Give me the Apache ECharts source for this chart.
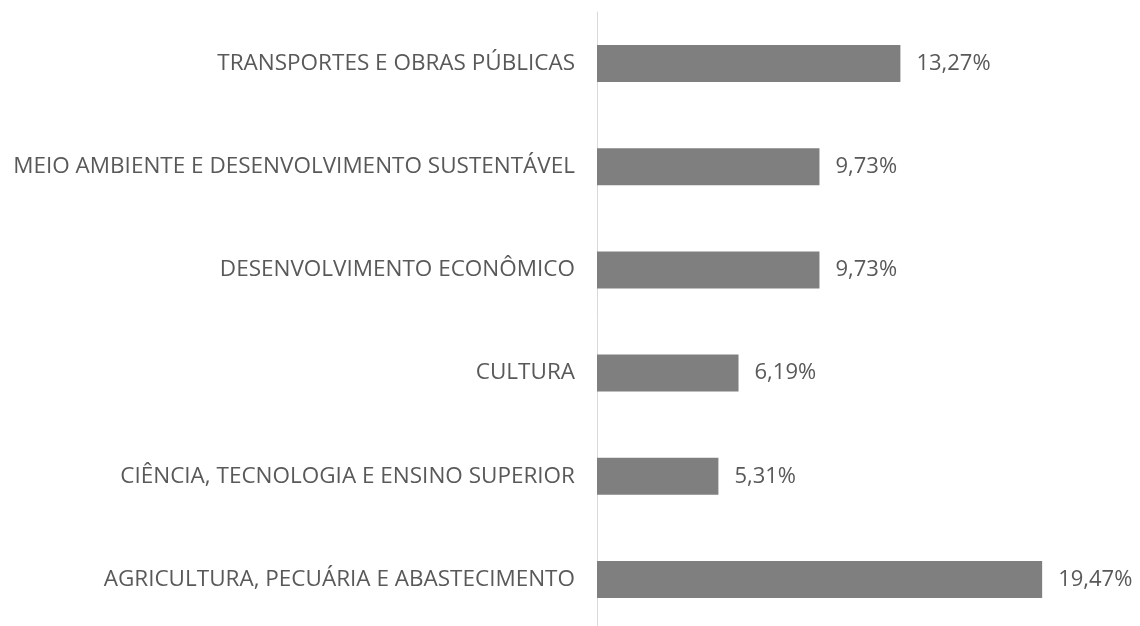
<!DOCTYPE html>
<html><head><meta charset="utf-8">
<script src="https://cdn.jsdelivr.net/npm/echarts@6/dist/echarts.min.js"></script>
<style>html,body{margin:0;padding:0;background:#fff}#c{width:1140px;height:626px}</style>
</head><body><div id="c"></div>
<script>
const categories = [
  "AGRICULTURA, PECUÁRIA E ABASTECIMENTO",
  "CIÊNCIA, TECNOLOGIA E ENSINO SUPERIOR",
  "CULTURA",
  "DESENVOLVIMENTO ECONÔMICO",
  "MEIO AMBIENTE E DESENVOLVIMENTO SUSTENTÁVEL",
  "TRANSPORTES E OBRAS PÚBLICAS"
];
const values = [19.47, 5.31, 6.19, 9.73, 9.73, 13.27];

const chart = echarts.init(document.getElementById('c'));
chart.setOption({
  animation: false,
  textStyle: { fontFamily: "Open Sans" },
  grid: { left: 597, width: 503, top: 12, height: 619, containLabel: false, outerBoundsMode: 'none' },
  xAxis: { type: 'value', min: 0, max: 22, show: false },
  yAxis: {
    type: 'category', data: categories,
    axisLine: { show: true, lineStyle: { color: '#d9d9d9', width: 1 } },
    axisTick: { show: false },
    axisLabel: { color: '#595959', fontSize: 22.5, margin: 22, fontFamily: "Open Sans" }
  },
  series: [{
    type: 'bar', data: values, barWidth: 37,
    itemStyle: { color: '#7f7f7f' },
    label: {
      show: true, position: 'right', distance: 16, color: '#595959', fontSize: 22,
      formatter: p => p.value.toFixed(2).replace('.', ',') + '%'
    }
  }]
});
</script></body></html>
